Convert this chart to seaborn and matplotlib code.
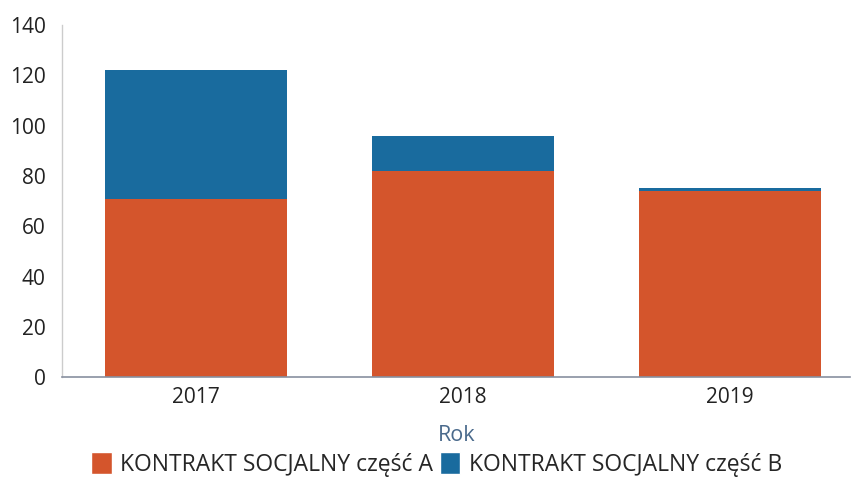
import numpy as np
import pandas as pd
import matplotlib
matplotlib.use("Agg")
import matplotlib.pyplot as plt
import seaborn as sns
from matplotlib.patches import Patch

lata = ["2017", "2018", "2019"]
czesc_a = [71, 82, 74]
czesc_b = [51, 14, 1]
etykiety = ["KONTRAKT SOCJALNY część A", "KONTRAKT SOCJALNY część B"]

kolor_a = "#d4552c"
kolor_b = "#196b9e"

sns.set_style("white")
plt.rcParams["font.family"] = ["Open Sans", "DejaVu Sans"]

df = pd.DataFrame({"Rok": lata, "A": czesc_a, "B": czesc_b})
df["suma"] = df["A"] + df["B"]

fig = plt.figure(figsize=(8.56, 4.88), dpi=100)
ax = fig.add_axes([0.073, 0.227, 0.92, 0.722])

sns.barplot(data=df, x="Rok", y="suma", color=kolor_b, width=0.68,
            saturation=1, linewidth=0, ax=ax)
sns.barplot(data=df, x="Rok", y="A", color=kolor_a, width=0.68,
            saturation=1, linewidth=0, ax=ax)

ax.set_ylim(0, 140)
ax.set_yticks(range(0, 141, 20))
ax.set_xlim(-0.5, 2.45)
ax.tick_params(axis="both", labelsize=15, length=0, colors="#222222")
ax.tick_params(axis="x", pad=7)
ax.tick_params(axis="y", pad=12)
ax.set_xlabel("Rok", fontsize=15.5, color="#4a6a8c", labelpad=12)
ax.set_ylabel("")

sns.despine(ax=ax, top=True, right=True)
ax.spines["left"].set_color("#cccccc")
ax.spines["left"].set_linewidth(1)
ax.spines["bottom"].set_color("#8890a0")
ax.spines["bottom"].set_linewidth(1.2)

uchwyty = [Patch(facecolor=kolor_a, label=etykiety[0]),
           Patch(facecolor=kolor_b, label=etykiety[1])]
fig.legend(handles=uchwyty, loc="center", bbox_to_anchor=(0.51, 0.048),
           ncol=2, frameon=False, fontsize=16.5, handlelength=0.9,
           handleheight=1.1, handletextpad=0.35, columnspacing=0.3)

fig.savefig("out.png", dpi=100)
